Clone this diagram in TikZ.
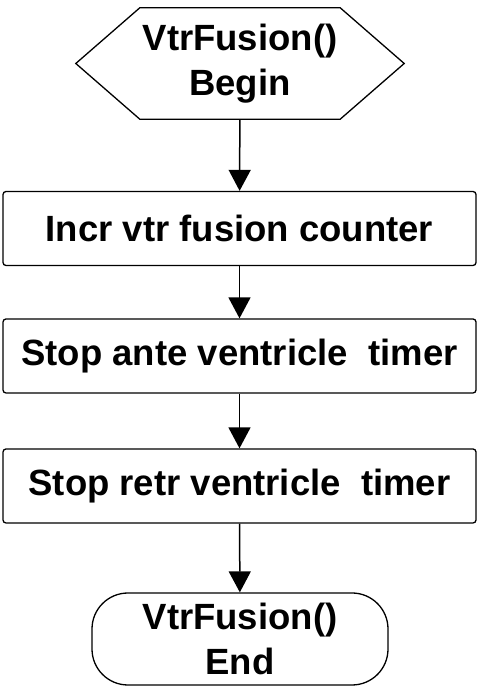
\documentclass[tikz,border=0pt]{standalone}
\usepackage{fontspec}
\setmainfont{Liberation Sans}
\usepackage{tikz}
\usetikzlibrary{arrows.meta}

\tikzset{
  caja/.style={draw, line width=1.3pt, rounded corners=3pt, minimum width=473pt, minimum height=74pt, inner sep=0pt},
  terminal/.style={draw, line width=1.3pt, rounded corners=36pt, minimum width=296pt, minimum height=92pt, inner sep=0pt, align=center},
  flecha/.style={line width=1.5pt, -{Triangle[width=22pt,length=21pt]}}
}

\begin{document}
\begin{tikzpicture}[x=1pt, y=1pt, font=\fontsize{36.5}{45}\selectfont\bfseries]
  \useasboundingbox (0,0) rectangle (486,698);

  % Inicio (hexagono)
  \node[minimum width=328pt, minimum height=111pt, inner sep=0pt, align=center] (inicio) at (240,634.5) {VtrFusion()\\Begin};
  \draw[line width=1.3pt] ([xshift=64pt]inicio.north west) -- ([xshift=-64pt]inicio.north east) -- (inicio.east)
    -- ([xshift=-64pt]inicio.south east) -- ([xshift=64pt]inicio.south west) -- (inicio.west) -- cycle;

  % Pasos
  \node[caja] (incr) at (239.5,469.5) {Incr vtr fusion counter};
  \node[caja] (stopante) at (239.5,342) {Stop ante ventricle~~timer};
  \node[caja] (stopretr) at (239.5,212) {Stop retr ventricle~~timer};

  % Fin
  \node[terminal] (fin) at (240,59) {VtrFusion()\\End};

  % Flechas
  \foreach \a/\b in {inicio/incr, incr/stopante, stopante/stopretr, stopretr/fin} {
    \draw[flecha] (\a) -- (\b);
  }
\end{tikzpicture}
\end{document}
